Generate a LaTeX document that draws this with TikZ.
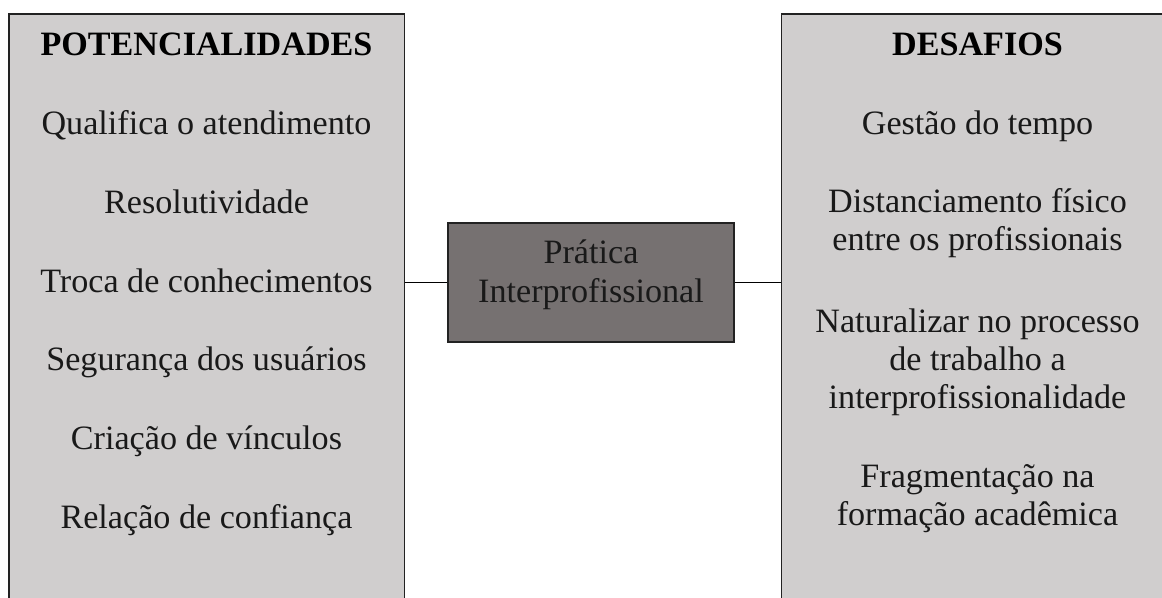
\documentclass[tikz,border=0pt]{standalone}
\usepackage{fontspec}
\setmainfont{Liberation Serif}
\definecolor{lightbox}{HTML}{D0CECE}
\definecolor{darkbox}{HTML}{767171}
\definecolor{edge}{HTML}{222222}
\begin{document}
\begin{tikzpicture}[x=0.75pt,y=-0.75pt,
  panel/.style={draw=edge,line width=1.1pt,fill=lightbox,inner sep=0pt},
  core/.style={draw=edge,line width=0.9pt,fill=darkbox,inner sep=0pt,
    minimum width=214.5pt,minimum height=89.25pt},
  txt/.style={anchor=base,inner sep=0pt,font=\fontsize{25.6}{29.3}\selectfont,text=black!90},
  head/.style={txt,font=\fontsize{25.6}{29.3}\selectfont\bfseries,text=black},
  link/.style={draw=black,line width=0.8pt}]
\useasboundingbox (0,0) rectangle (1162,597);
\clip (0,0) rectangle (1162,597);
\node[panel,minimum width=296.6pt,minimum height=450pt] (L) at (206.7,314) {};
\node[panel,minimum width=294pt,minimum height=450pt] (R) at (977.5,314) {};
\node[core] (C) at (591,282.5) {};
\node[txt] (c1) at (591,263) {Prática};
\node[txt] (c2) at (591,302) {Interprofissional};
\draw[link] (C.west) -- (C.west -| L.east);
\draw[link] (C.east) -- (C.east -| R.west);
% left column
\node[head] (l0) at (206.5,55) {POTENCIALIDADES};
\node[txt] (l1) at (206.5,134) {Qualifica o atendimento};
\node[txt] (l2) at (206.5,213) {Resolutividade};
\node[txt] (l3) at (206.5,292) {Troca de conhecimentos};
\node[txt] (l4) at (206.5,370) {Segurança dos usuários};
\node[txt] (l5) at (206.5,449) {Criação de vínculos};
\node[txt] (l6) at (206.5,528) {Relação de confiança};
% right column
\node[head] (r0) at (977.5,55) {DESAFIOS};
\node[txt] (r1) at (977.5,134) {Gestão do tempo};
\node[txt] (r2a) at (977.5,212) {Distanciamento físico};
\node[txt] (r2b) at (977.5,250.5) {entre os profissionais};
\node[txt] (r3a) at (977.5,332) {Naturalizar no processo};
\node[txt] (r3b) at (977.5,370) {de trabalho a};
\node[txt] (r3c) at (977.5,408.5) {interprofissionalidade};
\node[txt] (r4a) at (977.5,487) {Fragmentação na};
\node[txt] (r4b) at (977.5,525.5) {formação acadêmica};
\end{tikzpicture}
\end{document}
